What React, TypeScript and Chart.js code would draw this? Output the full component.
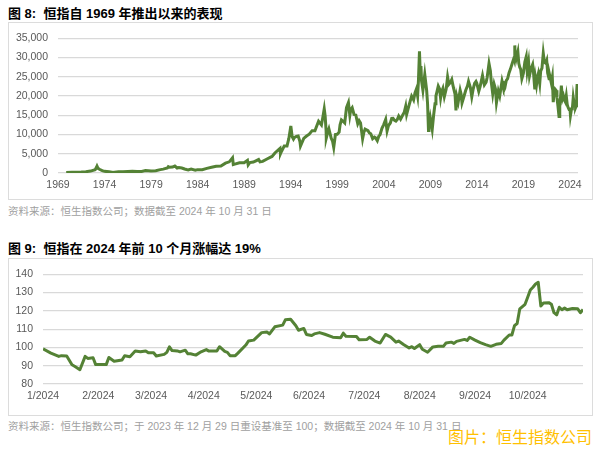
import React, { useEffect, useRef } from "react";
import { Chart, registerables } from "chart.js";

Chart.register(...registerables);

// ---- Figure 8: HSI since 1969 (decimal year, index level) ----
const hsiYears = [
  1969.88, 1970.5, 1970.99, 1971.5, 1971.99, 1972.5, 1972.99, 1973.12, 1973.19, 1973.3, 1973.5, 1973.75, 1973.99,
  1974.5, 1974.92, 1974.99, 1975.5, 1975.99, 1976.5, 1976.99, 1977.5, 1977.99, 1978.4, 1978.7, 1978.99,
  1979.5, 1979.99, 1980.3, 1980.75, 1980.85, 1980.99, 1981.3, 1981.55, 1981.8, 1981.99, 1982.3, 1982.6, 1982.8,
  1982.99, 1983.3, 1983.75, 1983.99, 1984.5, 1984.99, 1985.5, 1985.99, 1986.5, 1986.99, 1987.4, 1987.75,
  1987.83, 1987.99, 1988.5, 1988.99, 1989.35, 1989.43, 1989.6, 1989.99, 1990.55, 1990.7, 1990.99, 1991.5,
  1991.99, 1992.3, 1992.85, 1992.9, 1992.99, 1993.3, 1993.6, 1993.8, 1993.99, 1994.01, 1994.15, 1994.3,
  1994.4, 1994.6, 1994.8, 1994.99, 1995.05, 1995.4, 1995.7, 1995.99, 1996.3, 1996.6, 1996.99, 1997.3, 1997.45,
  1997.6, 1997.7, 1997.8, 1997.82, 1997.99, 1998.1, 1998.35, 1998.5, 1998.62, 1998.8, 1998.99, 1999.2, 1999.3,
  1999.45, 1999.6, 1999.8, 1999.99, 2000.2, 2000.35, 2000.45, 2000.6, 2000.8, 2000.99, 2001.2, 2001.35, 2001.5,
  2001.72, 2001.85, 2001.99, 2002.3, 2002.45, 2002.6, 2002.8, 2002.99, 2003.1, 2003.3, 2003.45, 2003.6,
  2003.8, 2003.99, 2004.2, 2004.35, 2004.5, 2004.7, 2004.85, 2004.99, 2005.15, 2005.3, 2005.45, 2005.6,
  2005.8, 2005.99, 2006.2, 2006.35, 2006.45, 2006.7, 2006.85, 2006.99, 2007.1, 2007.2, 2007.35, 2007.5,
  2007.63, 2007.72, 2007.83, 2007.9, 2007.99, 2008.05, 2008.2, 2008.4, 2008.6, 2008.7, 2008.8, 2008.85,
  2008.9, 2008.99, 2009.2, 2009.35, 2009.5, 2009.6, 2009.7, 2009.85, 2009.99, 2010.1, 2010.2, 2010.35,
  2010.5, 2010.7, 2010.85, 2010.99, 2011.15, 2011.3, 2011.45, 2011.5, 2011.65, 2011.75, 2011.85, 2011.99,
  2012.2, 2012.3, 2012.4, 2012.6, 2012.8, 2012.99, 2013.1, 2013.3, 2013.45, 2013.6, 2013.75, 2013.9,
  2013.99, 2014.2, 2014.35, 2014.6, 2014.7, 2014.8, 2014.99, 2015.1, 2015.3, 2015.45, 2015.55, 2015.7,
  2015.85, 2015.99, 2016.1, 2016.3, 2016.45, 2016.7, 2016.8, 2016.9, 2016.99, 2017.15, 2017.3, 2017.45,
  2017.6, 2017.8, 2017.99, 2018.07, 2018.12, 2018.2, 2018.3, 2018.4, 2018.5, 2018.6, 2018.7, 2018.83, 2018.99,
  2019.15, 2019.3, 2019.4, 2019.55, 2019.65, 2019.8, 2019.99, 2020.05, 2020.22, 2020.3, 2020.4, 2020.5,
  2020.6, 2020.75, 2020.85, 2020.99, 2021.13, 2021.25, 2021.4, 2021.5, 2021.6, 2021.75, 2021.85, 2021.99,
  2022.1, 2022.2, 2022.3, 2022.4, 2022.5, 2022.6, 2022.7, 2022.82, 2022.9, 2022.99, 2023.07, 2023.2,
  2023.3, 2023.4, 2023.5, 2023.6, 2023.7, 2023.8, 2023.9, 2023.99, 2024.05, 2024.15, 2024.25, 2024.35,
  2024.45, 2024.55, 2024.6, 2024.68, 2024.72, 2024.77, 2024.8, 2024.83,
];
const hsiValues = [
  158, 200, 211, 260, 341, 500, 843, 1400, 1775, 1200, 900, 600, 433,
  300, 150, 171, 300, 350, 420, 447, 420, 404, 650, 600, 495,
  600, 879, 1000, 1300, 1650, 1473, 1550, 1810, 1300, 1406, 1300, 1050, 900,
  784, 1000, 700, 874, 850, 1200, 1500, 1752, 1800, 2568, 2900, 3949,
  2200, 2302, 2650, 2687, 3300, 2100, 2700, 2837, 3500, 2900, 3024, 3700,
  4297, 5200, 6400, 5000, 5512, 7000, 7000, 9000, 11888, 12201, 9500, 8800,
  9200, 9500, 9600, 8191, 7000, 9000, 9600, 10073, 11000, 11000, 13451, 12500, 14500,
  16673, 14800, 11000, 9060, 10723, 11500, 9000, 8200, 6660, 10000, 10049, 10600, 12500,
  13800, 13500, 13000, 16962, 18301, 15000, 16500, 17000, 15200, 15096, 12800, 13600, 13000,
  8900, 10500, 11397, 11000, 10400, 10200, 8900, 9321, 9200, 8409, 9500, 10000,
  11600, 12576, 13900, 10900, 12300, 13000, 14200, 14230, 13700, 13500, 13900, 14800,
  14000, 14876, 15800, 17300, 15200, 17500, 18800, 19965, 19500, 19000, 20800, 21800,
  20000, 24000, 31638, 27000, 27813, 24000, 21500, 25600, 21500, 18000, 11016, 13500,
  13000, 14387, 11344, 15000, 18000, 20000, 21000, 22600, 21873, 19500, 21000, 22000,
  19800, 21800, 24964, 23035, 23500, 24300, 22500, 22000, 20500, 16250, 19800, 18434,
  21500, 20500, 18200, 19800, 21500, 22657, 23800, 22200, 19800, 21800, 23300, 23800,
  23306, 21200, 22500, 25300, 24000, 22900, 23605, 24800, 28442, 26500, 23500, 20600,
  23100, 21914, 18300, 21300, 20000, 23900, 22900, 21500, 22001, 24000, 24500, 26000,
  27000, 28500, 29919, 33154, 30200, 31000, 30500, 31500, 28500, 27500, 27000, 24500, 25846,
  28800, 30200, 26500, 28800, 25300, 27000, 28190, 27000, 21696, 24500, 22900, 24800,
  25800, 23300, 26500, 27231, 31085, 28800, 28500, 29200, 26000, 24500, 25000, 23398,
  24900, 18400, 21000, 21800, 21500, 19600, 17500, 14687, 18200, 19781, 22689, 19300,
  20000, 19000, 18500, 20000, 17800, 17000, 16500, 17047, 14961, 16500, 16600, 19636,
  18000, 17600, 17000, 17500, 21134, 23099, 20500, 22800,
];
const yearTicks = [1969, 1974, 1979, 1984, 1989, 1994, 1999, 2004, 2009, 2014, 2019, 2024];

// ---- Figure 9: HSI in 2024, rebased to 100 (trading-day number, index) ----
const tradingDays = [
  0, 3, 6, 7, 9, 11, 12, 14, 16, 17, 19, 20, 24, 25, 27, 30, 31, 33, 35, 37, 39, 40, 42, 43, 46, 47, 48, 49,
  51, 52, 54, 55, 56, 58, 60, 62, 63, 66, 67, 69, 70, 71, 73, 74, 77, 78, 80, 83, 85, 86, 88, 91, 92, 94, 96,
  97, 99, 100, 102, 103, 105, 107, 110, 113, 114, 115, 119, 120, 123, 124, 126, 128, 130, 132, 134, 135, 137,
  139, 140, 141, 143, 144, 146, 148, 150, 152, 153, 155, 156, 157, 160, 161, 162, 164, 166, 168, 170, 172, 174,
  175, 177, 178, 179, 180, 181, 183, 184, 185, 186, 187, 188, 189, 190, 192, 193, 194, 195, 196, 197, 198, 199,
  201, 203, 204, 205,
];
const rebasedValues = [
  99.2, 96.9, 95.1, 95.5, 95.3, 90.5, 89.7, 87.8, 95.1, 94.0, 94.4, 90.6, 90.6, 94.5, 92.4, 93.1, 95.5, 94.9,
  98.0, 97.6, 98.1, 97.1, 97.1, 95.3, 96.2, 97.3, 100.3, 98.3,
  98.1, 97.6, 98.5, 96.5, 96.5, 95.8, 97.6, 98.8, 98.0, 98.0, 100.4, 97.8, 97.3, 95.5, 95.5, 96.9, 101.3, 103.5,
  104.0, 108.1, 108.4, 107.4, 111.3, 112.2, 115.1, 115.4, 111.9,
  109.4, 110.4, 107.1, 106.5, 107.4, 108.1, 107.2, 105.6, 105.3, 107.8, 106.1, 106.0, 104.2, 104.4, 105.6, 103.5,
  102.4, 107.1, 105.6, 102.9, 103.5, 101.5,
  99.7, 100.4, 99.4, 101.5, 99.0, 97.4, 100.3, 100.6, 100.6, 102.4, 102.9, 102.2, 103.3, 104.4, 103.8, 105.6,
  104.0, 102.6, 101.5, 100.6, 101.7, 102.2,
  104.0, 106.8, 106.8, 111.9, 113.1, 121.1, 123.6, 127.5, 131.4, 132.9, 134.7, 135.6, 122.6, 124.3, 124.5, 123.6,
  119.0, 117.8, 122.0, 120.6, 121.5, 120.6,
  121.3, 121.1, 119.0, 120.7,
];
const monthTickDays = [0, 21, 41, 61, 81, 101, 122, 143, 164, 184];
const monthLabels = ["1/2024", "2/2024", "3/2024", "4/2024", "5/2024", "6/2024", "7/2024", "8/2024", "9/2024", "10/2024"];

const GREEN = "#548235";
const GRID = "#d9d9d9";
const TICK = "#595959";
const FONT = "'Liberation Sans', Arial, 'Noto Sans CJK SC', sans-serif";

function useChart(ref: React.RefObject<HTMLCanvasElement | null>, build: (c: HTMLCanvasElement) => Chart) {
  useEffect(() => {
    if (!ref.current) return;
    const ch = build(ref.current);
    return () => ch.destroy();
  }, []);
}

export default function App() {
  const c1 = useRef<HTMLCanvasElement>(null);
  const c2 = useRef<HTMLCanvasElement>(null);

  useChart(c1, (cv) =>
    new Chart(cv, {
      type: "line",
      data: {
        datasets: [
          {
            data: hsiYears.map((x, i) => ({ x, y: hsiValues[i] })),
            borderColor: GREEN,
            borderWidth: 3,
            pointRadius: 0,
            tension: 0,
          },
        ],
      },
      options: {
        animation: false,
        responsive: false,
        layout: { padding: { top: 16, right: 15, left: 0, bottom: 0 } },
        plugins: { legend: { display: false }, tooltip: { enabled: false } },
        scales: {
          x: {
            type: "linear",
            min: 1969,
            max: 2024.86,
            grid: { display: false, drawTicks: false },
            border: { display: false },
            afterBuildTicks: (s: any) => {
              s.ticks = yearTicks.map((v) => ({ value: v }));
            },
            afterFit: (s: any) => {
              s.height = 26;
            },
            ticks: {
              autoSkip: false,
              maxRotation: 0,
              padding: 6,
              color: TICK,
              font: { family: FONT, size: 10.5 },
              callback: (v: any) => String(v),
            },
          },
          y: {
            min: 0,
            max: 35000,
            grid: { color: GRID, lineWidth: 1.3, drawTicks: false },
            border: { display: false },
            afterFit: (s: any) => {
              s.width = 50;
            },
            ticks: {
              stepSize: 5000,
              padding: 10,
              color: TICK,
              font: { family: FONT, size: 10.5 },
              callback: (v: any) => Number(v).toLocaleString("en-US"),
            },
          },
        },
      },
    } as any)
  );

  useChart(c2, (cv) =>
    new Chart(cv, {
      type: "line",
      data: {
        datasets: [
          {
            data: tradingDays.map((x, i) => ({ x, y: rebasedValues[i] })),
            borderColor: GREEN,
            borderWidth: 3,
            pointRadius: 0,
            tension: 0,
            borderJoinStyle: "round",
          },
        ],
      },
      options: {
        animation: false,
        responsive: false,
        layout: { padding: { top: 14, right: 10, left: 0, bottom: 0 } },
        plugins: { legend: { display: false }, tooltip: { enabled: false } },
        scales: {
          x: {
            type: "linear",
            min: 0,
            max: 205,
            grid: { display: false, drawTicks: false },
            border: { display: false },
            afterBuildTicks: (s: any) => {
              s.ticks = monthTickDays.map((v) => ({ value: v }));
            },
            afterFit: (s: any) => {
              s.height = 31;
            },
            ticks: {
              autoSkip: false,
              maxRotation: 0,
              padding: 6,
              color: TICK,
              font: { family: FONT, size: 10.5 },
              callback: (v: any) => monthLabels[monthTickDays.indexOf(Number(v))],
            },
          },
          y: {
            min: 80,
            max: 140,
            grid: { color: GRID, lineWidth: 1.3, drawTicks: false },
            border: { display: false },
            afterFit: (s: any) => {
              s.width = 35;
            },
            ticks: {
              stepSize: 10,
              padding: 10,
              color: TICK,
              font: { family: FONT, size: 10.5 },
            },
          },
        },
      },
    } as any)
  );

  const abs = (l: number, t: number, extra: React.CSSProperties = {}): React.CSSProperties => ({
    position: "absolute",
    left: l,
    top: t,
    whiteSpace: "nowrap",
    ...extra,
  });
  const titleStyle: React.CSSProperties = {
    fontFamily: FONT,
    fontWeight: "bold",
    fontSize: 13,
    lineHeight: "16px",
    color: "#000",
  };
  const noteStyle: React.CSSProperties = {
    fontFamily: FONT,
    fontSize: 10.5,
    lineHeight: "14px",
    color: "#a0a0a0",
  };
  const box = (t: number, h: number): React.CSSProperties => ({
    position: "absolute",
    left: 8,
    top: t,
    width: 585,
    height: h,
    boxSizing: "border-box",
    border: "1.5px solid #dcdcdc",
  });

  return (
    <div style={{ position: "fixed", left: 0, top: 0, width: 604, height: 452, background: "#fff", overflow: "hidden" }}>
      <div style={abs(8, 6, titleStyle)}>图 8:&nbsp; 恒指自 1969 年推出以来的表现</div>
      <div style={box(22, 178)} />
      <canvas ref={c1} width={585} height={177} style={abs(8, 22)} />
      <div style={abs(8, 203.5, noteStyle)}>资料来源：恒生指数公司；数据截至 2024 年 10 月 31 日</div>

      <div style={abs(8, 240.5, titleStyle)}>图 9:&nbsp; 恒指在 2024 年前 10 个月涨幅达 19%</div>
      <div style={box(258, 158)} />
      <canvas ref={c2} width={585} height={157} style={abs(8, 258)} />
      <div style={abs(8, 418.5, noteStyle)}>
        资料来源：恒生指数公司；于 2023 年 12 月 29 日重设基准至 100；数据截至 2024 年 10 月 31 日
      </div>
      <div
        style={abs(448, 427, {
          fontFamily: "'Noto Sans CJK SC', sans-serif",
          fontSize: 16,
          lineHeight: "18px",
          color: "#ffc000",
        })}
      >
        图片：恒生指数公司
      </div>
    </div>
  );
}
